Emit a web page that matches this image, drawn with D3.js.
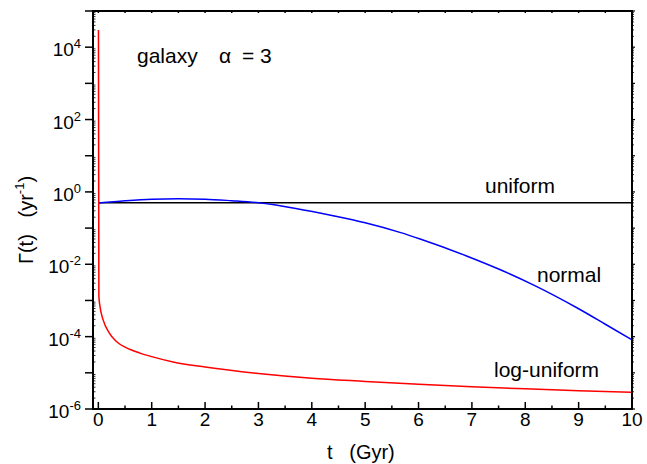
<!DOCTYPE html>
<html>
<head>
<meta charset="utf-8">
<script src="https://cdn.jsdelivr.net/npm/d3@7"></script>
<style>
body { margin: 0; background: #fff; }
text { font-family: "Liberation Sans", Arial, sans-serif; fill: #000; white-space: pre; }
</style>
</head>
<body>
<svg width="647" height="464"></svg>
<script>
const tUniform = [0, 10];
const gUniform = [0.5, 0.5];

const tNormal = [0, 0.5, 1, 1.5, 2, 2.5, 3, 3.7, 4.4, 5, 5.65, 6.03, 6.9, 7.5, 8.15, 9, 9.5, 10];
const gNormal = [0.49, 0.57, 0.63, 0.645, 0.63, 0.57, 0.5, 0.35, 0.22, 0.14, 0.076, 0.05, 0.017, 7.4e-3, 2.7e-3, 5.9e-4, 2.2e-4, 8.1e-5];

const tLogUni = [0.002, 0.01, 0.03, 0.09, 0.2, 0.34, 0.6, 0.78, 1, 1.4, 2, 3, 4, 5, 6, 7, 8, 9, 10];
const gLogUni = [3e4, 1.3e-3, 7e-4, 2.9e-4, 1.3e-4, 7.3e-5, 4.4e-5, 3.5e-5, 2.8e-5, 2.0e-5, 1.45e-5, 9.6e-6, 7.1e-6, 5.8e-6, 4.8e-6, 4.1e-6, 3.6e-6, 3.2e-6, 2.9e-6];

const xTicks = [0, 1, 2, 3, 4, 5, 6, 7, 8, 9, 10];
const yLabelExps = [-6, -4, -2, 0, 2, 4];

const svg = d3.select('svg');
const margin = { top: 11, right: 15, bottom: 55, left: 93 };
const W = 647, H = 464;
const x = d3.scaleLinear().domain([-0.1, 10]).range([margin.left, W - margin.right]);
const y = d3.scaleLog().domain([1e-6, 1e5]).range([H - margin.bottom, margin.top]);

const x0 = x.range()[0], x1 = x.range()[1], y0 = y.range()[0], y1 = y.range()[1];

// curves
const line = d3.line().x(d => x(d[0])).y(d => y(d[1])).curve(d3.curveMonotoneX);
const series = [
  { t: tUniform, g: gUniform, c: '#000000' },
  { t: tNormal, g: gNormal, c: '#0000ff' },
  { t: tLogUni, g: gLogUni, c: '#ff0000' }
];
series.forEach(s => {
  svg.append('path')
    .datum(s.t.map((t, i) => [t, s.g[i]]))
    .attr('d', line)
    .attr('fill', 'none')
    .attr('stroke', s.c)
    .attr('stroke-width', 1.5);
});

// frame
svg.append('rect')
  .attr('x', x0).attr('y', y1)
  .attr('width', x1 - x0).attr('height', y0 - y1)
  .attr('fill', 'none').attr('stroke', '#000').attr('stroke-width', 2);

// x ticks
const xMinor = d3.range(0.5, 10, 1);
const tk = svg.append('g').attr('stroke', '#000').attr('stroke-width', 1.5);
xTicks.forEach(v => {
  tk.append('line').attr('x1', x(v)).attr('x2', x(v)).attr('y1', y0).attr('y2', y0 - 7);
  tk.append('line').attr('x1', x(v)).attr('x2', x(v)).attr('y1', y1).attr('y2', y1 + 2);
});
xMinor.forEach(v => {
  tk.append('line').attr('x1', x(v)).attr('x2', x(v)).attr('y1', y0).attr('y2', y0 - 3.5);
  tk.append('line').attr('x1', x(v)).attr('x2', x(v)).attr('y1', y1).attr('y2', y1 + 2);
});
svg.append('g').selectAll('text').data(xTicks).join('text')
  .attr('x', d => x(d)).attr('y', y0 + 17)
  .attr('text-anchor', 'middle').attr('font-size', 19)
  .text(d => d);

// y ticks
const tkY = svg.append('g').attr('stroke', '#000').attr('stroke-width', 1.2);
for (let e = -6; e <= 5; e++) {
  const v = Math.pow(10, e);
  tkY.append('line').attr('x1', x0 - 8).attr('x2', x0).attr('y1', y(v)).attr('y2', y(v)).attr('stroke-width', 1.5);
  tkY.append('line').attr('x1', x1).attr('x2', x1 + 3).attr('y1', y(v)).attr('y2', y(v));
  if (e < 5) {
    for (let m = 2; m <= 9; m++) {
      const yy = y(m * v);
      tkY.append('line').attr('x1', x0).attr('x2', x0 + 2.5).attr('y1', yy).attr('y2', yy).attr('stroke-width', 0.8);
      tkY.append('line').attr('x1', x1).attr('x2', x1 + 2).attr('y1', yy).attr('y2', yy).attr('stroke-width', 0.8);
    }
  }
}
const yl = svg.append('g').selectAll('text').data(yLabelExps).join('text')
  .attr('x', x0 - 12).attr('y', d => y(Math.pow(10, d)) + 9)
  .attr('text-anchor', 'end').attr('font-size', 19);
yl.append('tspan').text('10');
yl.append('tspan').attr('font-size', 13).attr('dy', -8).text(d => d);

// axis titles
svg.append('text')
  .attr('x', 327).attr('y', 459)
  .attr('font-size', 20)
  .text('t   (Gyr)');
const yt = svg.append('text')
  .attr('transform', 'translate(33,220) rotate(-90)')
  .attr('text-anchor', 'middle').attr('font-size', 20);
yt.append('tspan').text('Γ(t)   (yr');
yt.append('tspan').attr('font-size', 13).attr('dy', -9).text('-1');
yt.append('tspan').attr('dy', 9).text(')');

// annotations
svg.append('text').attr('x', 137).attr('y', 63).attr('font-size', 21).text('galaxy');
svg.append('text').attr('x', 219).attr('y', 63).attr('font-size', 21).text('α');
svg.append('text').attr('x', 242).attr('y', 63).attr('font-size', 21).text('= 3');
svg.append('text').attr('x', 485).attr('y', 193).attr('font-size', 21).text('uniform');
svg.append('text').attr('x', 537).attr('y', 282).attr('font-size', 21).text('normal');
svg.append('text').attr('x', 494).attr('y', 377).attr('font-size', 21).text('log-uniform');
</script>
</body>
</html>
